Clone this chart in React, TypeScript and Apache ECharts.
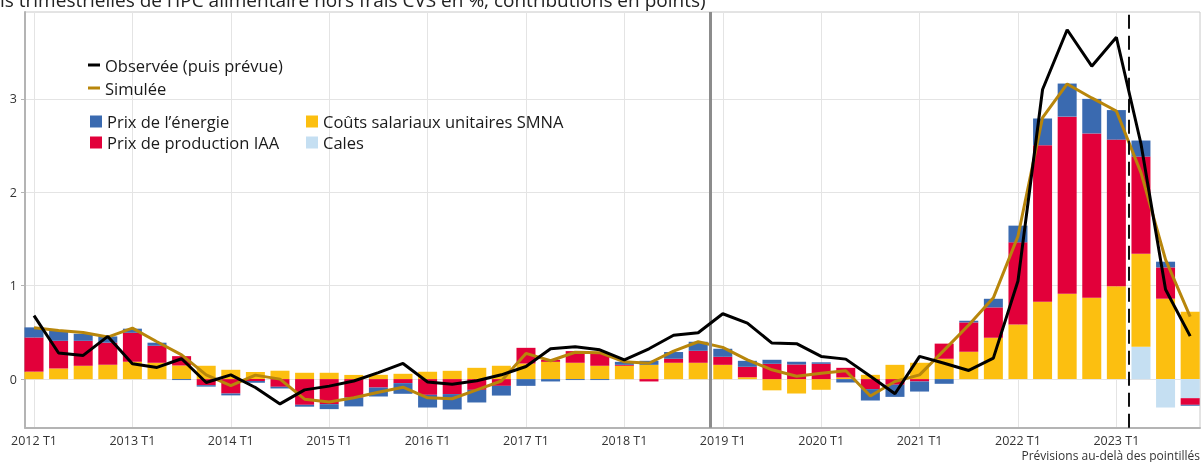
import React, { useEffect, useRef } from 'react';
import * as echarts from 'echarts';

const FONT = '"Open Sans", "Noto Sans", sans-serif';

const years = [2012, 2013, 2014, 2015, 2016, 2017, 2018, 2019, 2020, 2021, 2022, 2023];
const quarterNames = ['T1', 'T2', 'T3', 'T4'];
const categories = years.flatMap((y) => quarterNames.map((q) => `${y} ${q}`));

const yTicks = [0, 1, 2, 3];

// Contributions (points)
const cales = [
  0, 0, 0, 0, 0, 0, 0, 0, 0, 0, 0, 0,
  0, 0, 0, 0, 0, 0, 0, 0, 0, 0, 0, 0,
  0, 0, 0, 0, 0, 0, 0, 0, 0, 0, 0, 0,
  0, 0, 0, 0, 0, 0, 0, 0, 0, 0.346, -0.304, -0.204,
];
const smna = [
  0.08, 0.114, 0.143, 0.154, 0.186, 0.175, 0.146, 0.143, 0.1, 0.075, 0.09, 0.068,
  0.068, 0.045, 0.046, 0.057, 0.079, 0.089, 0.121, 0.143, 0.167, 0.185, 0.175, 0.143,
  0.143, 0.153, 0.175, 0.175, 0.153, 0.02, -0.12, -0.154, -0.114, 0.018, 0.046, 0.153,
  0.175, 0.218, 0.293, 0.443, 0.586, 0.829, 0.914, 0.871, 0.993, 0.997, 0.861, 0.721,
];
const iaa = [
  0.366, 0.296, 0.267, 0.236, 0.31, 0.182, 0.1, -0.065, -0.154, -0.02, -0.082, -0.275,
  -0.268, -0.197, -0.09, -0.043, -0.168, -0.16, -0.115, -0.072, 0.168, 0.022, 0.125, 0.137,
  0.01, -0.025, 0.043, 0.128, 0.086, 0.112, 0.164, 0.157, 0.164, 0.103, -0.107, -0.06,
  -0.025, 0.162, 0.314, 0.325, 0.878, 1.675, 1.896, 1.759, 1.571, 1.039, 0.335, -0.071,
];
const energie = [
  0.108, 0.11, 0.076, 0.067, 0.044, 0.033, -0.01, -0.015, -0.02, -0.02, -0.018, -0.02,
  -0.053, -0.095, -0.096, -0.114, -0.136, -0.165, -0.135, -0.104, -0.072, -0.025, -0.01, -0.01,
  0.032, 0.043, 0.072, 0.097, 0.086, 0.064, 0.043, 0.029, 0.016, -0.036, -0.122, -0.13,
  -0.108, -0.05, 0.018, 0.092, 0.179, 0.286, 0.354, 0.37, 0.316, 0.172, 0.061, -0.01,
];
const observee = [
  0.68, 0.28, 0.254, 0.457, 0.164, 0.125, 0.218, -0.036, 0.046, -0.09, -0.265, -0.115,
  -0.075, -0.02, 0.07, 0.168, -0.03, -0.054, -0.018, 0.046, 0.135, 0.325, 0.346, 0.314,
  0.207, 0.325, 0.47, 0.496, 0.7, 0.6, 0.386, 0.38, 0.243, 0.214, 0.03, -0.157,
  0.243, 0.17, 0.093, 0.225, 1.05, 3.1, 3.74, 3.35, 3.66, 2.52, 0.96, 0.46,
];
const simulee = [
  0.55, 0.52, 0.5, 0.45, 0.546, 0.4, 0.26, 0.046, -0.07, 0.043, 0.0, -0.215,
  -0.245, -0.2, -0.14, -0.086, -0.2, -0.21, -0.115, -0.02, 0.275, 0.197, 0.288, 0.283,
  0.185, 0.17, 0.3, 0.4, 0.34, 0.207, 0.1, 0.03, 0.064, 0.09, -0.18, -0.025,
  0.046, 0.31, 0.58, 0.87, 1.53, 2.8, 3.16, 3.01, 2.87, 2.21, 1.28, 0.67,
];

const NAME_ENERGIE = 'Prix de l’énergie';
const NAME_IAA = 'Prix de production IAA';
const NAME_SMNA = 'Coûts salariaux unitaires SMNA';
const NAME_CALES = 'Cales';
const NAME_OBS = 'Observée (puis prévue)';
const NAME_SIM = 'Simulée';

const TITLE = 'ls trimestrielles de l’IPC alimentaire hors frais CVS en %, contributions en points)';
const NOTE = 'Prévisions au-delà des pointillés';

const simulationStart = 27.5; // between 2018 T4 and 2019 T1
const forecastStart = 44.5; // between 2023 T1 and 2023 T2

export default function App() {
  const ref = useRef<HTMLDivElement>(null);

  useEffect(() => {
    const chart = echarts.init(ref.current!, null, { renderer: 'svg' });
    // value first, index second: the stack is then computed on the y dimension
    const barPairs = (arr: number[]) => arr.map((v, i) => [v, i]);
    const linePairs = (arr: number[]) => arr.map((v, i) => [i, v]);
    const yearStarts = categories
      .map((c, i) => (c.endsWith('T1') ? i : -1))
      .filter((i) => i >= 0);

    const barBase = {
      type: 'bar',
      stack: 'contrib',
      barWidth: 19,
      silent: true,
      encode: { x: 1, y: 0 },
    };

    const legendText = { fontSize: 16.5, lineHeight: 20, color: '#1a1a1a', fontFamily: FONT };

    chart.setOption({
      animation: false,
      textStyle: { fontFamily: FONT },
      grid: {
        left: 25,
        top: 12,
        right: 2,
        bottom: 34.3,
        show: true,
        borderColor: '#c8c8c8',
        borderWidth: 1,
      },
      xAxis: {
        type: 'value',
        min: -0.366,
        max: 47.4,
        axisLine: { show: true, onZero: false, lineStyle: { color: '#b4b4b4', width: 2 } },
        axisTick: { show: false, customValues: yearStarts },
        axisLabel: {
          customValues: yearStarts,
          formatter: (v: number) => categories[Math.round(v)] ?? '',
          color: '#333',
          fontSize: 12.5,
          margin: 6,
          fontFamily: FONT,
        },
        splitLine: { show: true, lineStyle: { color: '#e4e4e4', width: 1 } },
      },
      yAxis: {
        type: 'value',
        min: -0.52,
        max: 3.93,
        axisLine: { show: true, onZero: false, lineStyle: { color: '#b4b4b4', width: 2 } },
        axisTick: { show: true, length: 4, customValues: yTicks, lineStyle: { color: '#b4b4b4' } },
        axisLabel: {
          customValues: yTicks,
          color: '#333',
          fontSize: 12.5,
          margin: 8,
          fontFamily: FONT,
        },
        splitLine: { show: true, lineStyle: { color: '#e4e4e4', width: 1 } },
      },
      legend: [
        {
          data: [NAME_OBS, NAME_SIM],
          orient: 'vertical',
          left: 88,
          top: 55,
          padding: 0,
          itemGap: 3,
          itemWidth: 12,
          itemHeight: 3,
          icon: 'rect',
          selectedMode: false,
          textStyle: legendText,
        },
        {
          data: [NAME_ENERGIE, NAME_IAA],
          orient: 'vertical',
          left: 90,
          top: 111.5,
          padding: 0,
          itemGap: 1,
          itemWidth: 12,
          itemHeight: 12,
          icon: 'rect',
          selectedMode: false,
          textStyle: legendText,
        },
        {
          data: [NAME_SMNA, NAME_CALES],
          orient: 'vertical',
          left: 306,
          top: 111.5,
          padding: 0,
          itemGap: 1,
          itemWidth: 12,
          itemHeight: 12,
          icon: 'rect',
          selectedMode: false,
          textStyle: legendText,
        },
      ],
      graphic: [
        {
          type: 'text',
          x: 0,
          y: 0.3,
          silent: true,
          style: {
            text: TITLE,
            fontSize: 19,
            fontFamily: FONT,
            fill: '#222',
            align: 'left',
            verticalAlign: 'middle',
          },
        },
        {
          type: 'text',
          x: 1200,
          y: 455,
          silent: true,
          style: {
            text: NOTE,
            fontSize: 12,
            fontFamily: FONT,
            fill: '#333',
            align: 'right',
            verticalAlign: 'middle',
          },
        },
      ],
      series: [
        { ...barBase, name: NAME_CALES, data: barPairs(cales), itemStyle: { color: '#c5dff2' } },
        { ...barBase, name: NAME_SMNA, data: barPairs(smna), itemStyle: { color: '#fcbf10' } },
        { ...barBase, name: NAME_IAA, data: barPairs(iaa), itemStyle: { color: '#e2003a' } },
        { ...barBase, name: NAME_ENERGIE, data: barPairs(energie), itemStyle: { color: '#3a6ab0' } },
        {
          type: 'line',
          name: NAME_SIM,
          data: linePairs(simulee),
          showSymbol: false,
          silent: true,
          z: 4,
          itemStyle: { color: '#b8860b' },
          lineStyle: { color: '#b8860b', width: 3 },
        },
        {
          type: 'line',
          name: NAME_OBS,
          data: linePairs(observee),
          showSymbol: false,
          silent: true,
          z: 5,
          itemStyle: { color: '#000' },
          lineStyle: { color: '#000', width: 3 },
          markLine: {
            silent: true,
            symbol: ['none', 'none'],
            label: { show: false },
            animation: false,
            data: [
              { xAxis: simulationStart, lineStyle: { color: '#8c8c8c', width: 3, type: 'solid' } },
              { xAxis: forecastStart, lineStyle: { color: '#111', width: 2, type: [14, 7] } },
            ],
          },
        },
      ],
    });

    return () => chart.dispose();
  }, []);

  return (
    <div
      ref={ref}
      style={{ position: 'fixed', left: 0, top: 0, width: 1202, height: 462 }}
    />
  );
}
